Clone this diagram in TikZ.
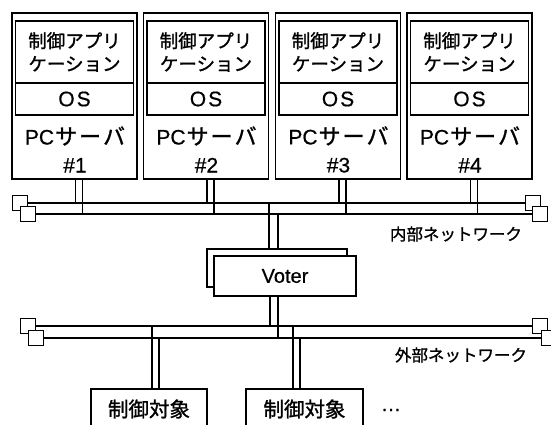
\documentclass[tikz,border=0pt]{standalone}
\usepackage{fontspec}
\setmainfont{Liberation Sans}[FakeBold=0.6]
\newfontfamily\jp{Noto Sans CJK JP}[FakeBold=1.2]
\begin{document}
\begin{tikzpicture}[x=1pt,y=-1pt,line width=1.3pt,
  box/.style={draw,fill=white,inner sep=0pt,outer sep=0pt,align=center},
  sq/.style={draw,fill=white,minimum size=15pt,inner sep=0pt,outer sep=0pt},
  apptxt/.style={font=\fontsize{18.5}{23}\selectfont\jp},
  lattxt/.style={font=\fontsize{21}{28}\selectfont},
  nettxt/.style={inner sep=0pt,font=\fontsize{16.5}{18}\selectfont\jp},
  wire/.style={line width=1.3pt}]
\useasboundingbox (0,0) rectangle (551,425);
\clip (0,0) rectangle (551,425);

% network end squares
\node[sq] (iL1) at (20,203) {};
\node[sq] (iL2) at (28,214) {};
\node[sq] (iR1) at (533,203) {};
\node[sq] (iR2) at (540,214) {};
\node[sq] (eL1) at (28,326) {};
\node[sq] (eL2) at (36,338) {};
\node[sq] (eR1) at (540,326) {};
\node[sq] (eR2) at (549,338) {};
\draw[wire] (iL1.east) -- (iR1.west);
\draw[wire] (iL2.east) -- (iR2.west);
\draw[wire] (eL1.east) -- (eR1.west);
\draw[wire] (eL2.east) -- (eR2.west);

% servers
\foreach \i/\l in {1/12,2/143.5,3/275.5,4/407}{
  \node[box,minimum width=125pt,minimum height=166pt] (srv\i) at (\l+62.5,96) {};
  \node[box,apptxt,minimum width=118pt,minimum height=62pt] (app\i) at (\l+62.5,52) {制御アプリ\\ケーション};
  \node[box,lattxt,minimum width=118pt,minimum height=32pt] (os\i) at (\l+62.5,99) {O\kern2pt S};
  \node[lattxt,align=center,inner sep=0pt] (pc\i) at (\l+63,149.5) {PC{\fontsize{22}{28}\selectfont\jp\kern1pt サ\kern2pt ー\kern2pt バ}\\\#\i};
  \draw[wire] ([xshift=1pt]srv\i.south) -- ([xshift=1pt]srv\i.south |- iL1.east);
  \draw[wire] ([xshift=8pt]srv\i.south) -- ([xshift=8pt]srv\i.south |- iL2.east);
}

\node[nettxt] (inet) at (456,234) {内部ネットワーク};
\node[nettxt] (enet) at (461,355) {外部ネットワーク};

% voter
\node[box,minimum width=140pt,minimum height=38pt] (vb) at (277,268) {};
\node[box,lattxt,minimum width=142pt,minimum height=40pt] (voter) at (285,276) {\fontsize{20}{24}\selectfont Voter};
\draw[wire] ([xshift=-8pt]vb.north) -- ([xshift=-8pt]vb.north |- iL1.east);
\draw[wire] ([xshift=1pt]vb.north) -- ([xshift=1pt]vb.north |- iL2.east);
\draw[wire] ([xshift=-15pt]voter.south) -- ([xshift=-15pt]voter.south |- eL1.east);
\draw[wire] ([xshift=-7pt]voter.south) -- ([xshift=-7pt]voter.south |- eL2.east);

% controlled devices
\node[box,minimum width=116pt,minimum height=40pt,font=\fontsize{20.5}{24}\selectfont\jp] (dev1) at (149,409) {制御対象};
\node[box,minimum width=117pt,minimum height=40pt,font=\fontsize{20.5}{24}\selectfont\jp] (dev2) at (304.5,409) {制御対象};
\draw[wire] ([xshift=3pt]dev1.north) -- ([xshift=3pt]dev1.north |- eL1.east);
\draw[wire] ([xshift=10pt]dev1.north) -- ([xshift=10pt]dev1.north |- eL2.east);
\draw[wire] ([xshift=-11.5pt]dev2.north) -- ([xshift=-11.5pt]dev2.north |- eL1.east);
\draw[wire] ([xshift=-4.5pt]dev2.north) -- ([xshift=-4.5pt]dev2.north |- eL2.east);
\node[inner sep=0pt,font=\fontsize{20}{24}\selectfont] (more) at (391,410) {…};
\end{tikzpicture}
\end{document}
